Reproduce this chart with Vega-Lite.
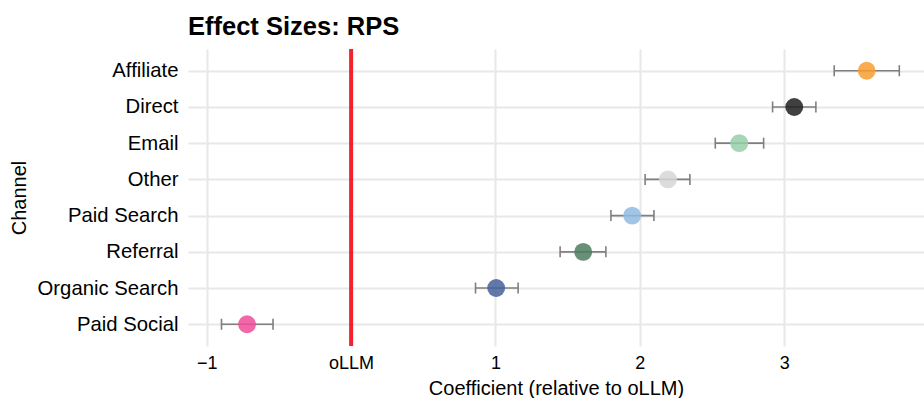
{
  "$schema": "https://vega.github.io/schema/vega-lite/v6.json",
  "width": 736,
  "height": 297,
  "autosize": {"type": "none"},
  "padding": {"left": 188, "top": 49, "right": 0, "bottom": 52},
  "background": "white",
  "title": {"text": "Effect Sizes: RPS", "anchor": "start", "frame": "group", "font": "Liberation Sans", "fontSize": 25.5, "fontWeight": "bold", "color": "#000000", "offset": 7},
  "config": {
    "view": {"stroke": null},
    "axis": {"labelFont": "Liberation Sans", "titleFont": "Liberation Sans", "labelColor": "#000000", "titleColor": "#000000", "titleFontWeight": "normal", "domain": false, "ticks": false, "gridColor": "#E8E8E8", "gridWidth": 2}
  },
  "data": {"values": [
    {"channel": "Affiliate", "est": 3.572, "lo": 3.347, "hi": 3.798},
    {"channel": "Direct", "est": 3.07, "lo": 2.92, "hi": 3.22},
    {"channel": "Email", "est": 2.689, "lo": 2.523, "hi": 2.858},
    {"channel": "Other", "est": 2.195, "lo": 2.037, "hi": 2.347},
    {"channel": "Paid Search", "est": 1.947, "lo": 1.8, "hi": 2.098},
    {"channel": "Referral", "est": 1.608, "lo": 1.448, "hi": 1.765},
    {"channel": "Organic Search", "est": 1.005, "lo": 0.862, "hi": 1.157},
    {"channel": "Paid Social", "est": -0.721, "lo": -0.898, "hi": -0.541}
  ]},
  "encoding": {
    "y": {"field": "channel", "type": "nominal",
      "sort": ["Affiliate", "Direct", "Email", "Other", "Paid Search", "Referral", "Organic Search", "Paid Social"],
      "scale": {"type": "point", "padding": 0.6},
      "axis": {"title": "Channel", "labelFontSize": 20.3, "titleFontSize": 20, "labelPadding": 10, "titlePadding": 8, "grid": true}}
  },
  "layer": [
    {
      "mark": {"type": "rule", "color": "#7F7F7F", "strokeWidth": 1.6},
      "encoding": {
        "x": {"field": "lo", "type": "quantitative",
          "scale": {"domain": [-1.13, 3.969], "nice": false, "zero": false},
          "axis": {"title": "Coefficient (relative to oLLM)", "values": [-1, 0, 1, 2, 3], "format": "d",
            "labelExpr": "datum.value == 0 ? 'oLLM' : datum.label",
            "labelFontSize": 18, "titleFontSize": 20, "labelPadding": 8, "titlePadding": 6, "grid": true}},
        "x2": {"field": "hi"}
      }
    },
    {
      "mark": {"type": "tick", "color": "#7F7F7F", "thickness": 1.6, "size": 11, "opacity": 1},
      "encoding": {"x": {"field": "lo", "type": "quantitative"}}
    },
    {
      "mark": {"type": "tick", "color": "#7F7F7F", "thickness": 1.6, "size": 11, "opacity": 1},
      "encoding": {"x": {"field": "hi", "type": "quantitative"}}
    },
    {
      "data": {"values": [{"ref": 0}]},
      "mark": {"type": "rule", "color": "#F5222D", "strokeWidth": 4},
      "encoding": {"x": {"field": "ref", "type": "quantitative"}, "y": null}
    },
    {
      "mark": {"type": "point", "filled": true, "shape": "circle", "size": 320, "opacity": 0.85},
      "encoding": {
        "x": {"field": "est", "type": "quantitative"},
        "color": {"field": "channel", "type": "nominal", "legend": null,
          "scale": {"domain": ["Affiliate", "Direct", "Email", "Other", "Paid Search", "Referral", "Organic Search", "Paid Social"],
            "range": ["#F89E30", "#1E1E1E", "#98CFAA", "#D6D6D6", "#90BBE2", "#4E7C60", "#46609A", "#EE4C98"]}}
      }
    }
  ]
}
